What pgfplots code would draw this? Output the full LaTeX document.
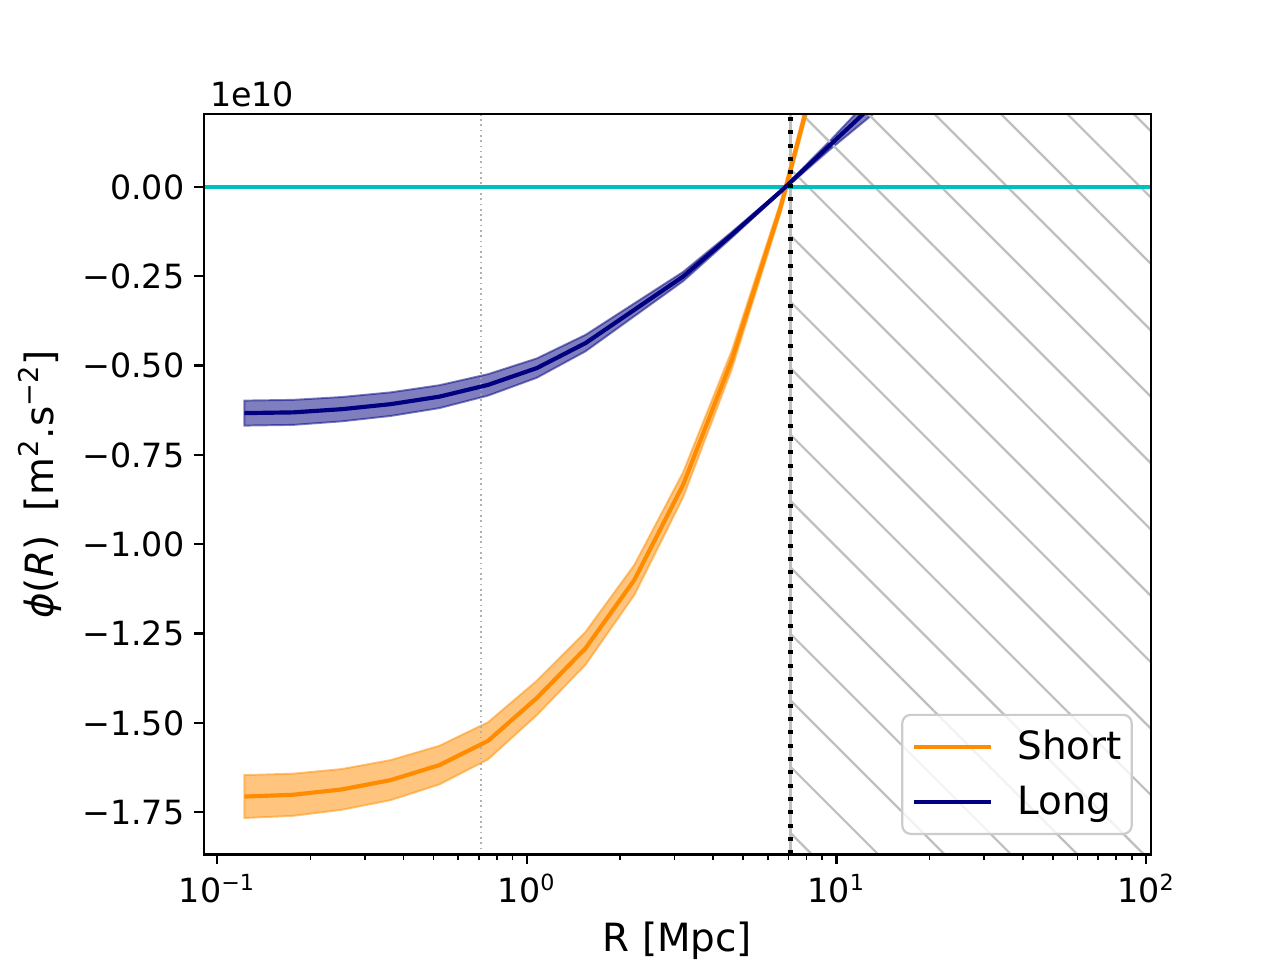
\documentclass[border=0pt]{standalone}
\usepackage{fontspec}
\setmainfont{DejaVu Sans}[ItalicFont={DejaVu Sans Oblique},BoldFont={DejaVu Sans Bold}]
\usepackage{pgfplots}
\pgfplotsset{compat=1.18}
\usepackage{pgfplotstable}
\usepgfplotslibrary{fillbetween}
\usetikzlibrary{patterns.meta}

\definecolor{dorange}{RGB}{255,140,0}
\definecolor{navyc}{RGB}{0,0,128}
\definecolor{cyanc}{RGB}{0,191,191}
\definecolor{hatchgray}{RGB}{191,191,191}
\definecolor{dotgray}{RGB}{176,176,176}
\definecolor{legedge}{RGB}{204,204,204}

% values in units of 1e10 m^2 s^-2
\pgfplotstableread{
R       m       lo      hi
0.1225  -1.706  -1.766  -1.646
0.1759  -1.701  -1.760  -1.642
0.2528  -1.686  -1.743  -1.629
0.3633  -1.660  -1.716  -1.604
0.5220  -1.618  -1.672  -1.564
0.7499  -1.550  -1.602  -1.498
1.0775  -1.430  -1.478  -1.382
1.548   -1.291  -1.337  -1.245
2.224   -1.100  -1.142  -1.058
3.196   -0.834  -0.869  -0.799
4.592   -0.484  -0.510  -0.458
6.598   -0.058  -0.073  -0.043
9.480    0.460   0.440   0.480
}\shortdata

\pgfplotstableread{
R       m       lo      hi
0.1225  -0.633  -0.668  -0.598
0.1759  -0.631  -0.666  -0.596
0.2528  -0.622  -0.656  -0.588
0.3633  -0.608  -0.641  -0.575
0.5220  -0.587  -0.619  -0.555
0.7499  -0.554  -0.584  -0.524
1.0775  -0.507  -0.534  -0.480
1.548   -0.437  -0.460  -0.414
2.224   -0.344  -0.362  -0.326
3.196   -0.251  -0.264  -0.238
4.592   -0.134  -0.142  -0.126
6.598   -0.013  -0.016  -0.010
9.480    0.115   0.103   0.127
13.62    0.243   0.215   0.271
}\longdata

\begin{document}
\begin{tikzpicture}
\begin{axis}[
  name=ax,
  at={(0pt,0pt)}, anchor=south west,
  scale only axis,
  width=341pt, height=266.5pt,
  xmode=log,
  xmin=0.0906, xmax=103.8,
  ymin=-1.868, ymax=0.2035,
  axis on top,
  tick align=outside,
  xtick pos=bottom, ytick pos=left,
  axis line style={line width=0.8pt, black},
  major tick length=3.5pt, minor tick length=2pt,
  major tick style={line width=0.8pt, black},
  minor tick style={line width=0.6pt, black},
  xtick={0.1,1,10,100},
  xticklabels={10\textsuperscript{−1},10\textsuperscript{0},10\textsuperscript{1},10\textsuperscript{2}},
  minor xtick={0.2,0.3,0.4,0.5,0.6,0.7,0.8,0.9,2,3,4,5,6,7,8,9,20,30,40,50,60,70,80,90},
  ytick={-1.75,-1.5,-1.25,-1,-0.75,-0.5,-0.25,0},
  yticklabels={−1.75,−1.50,−1.25,−1.00,−0.75,−0.50,−0.25,0.00},
  ticklabel style={font=\fontsize{12}{14}\selectfont},
  xlabel={R [Mpc]},
  ylabel={{\itshape ϕ}(\textit{R})\ \ [m\textsuperscript{2}.s\textsuperscript{−2}]},
  label style={font=\fontsize{14}{16.8}\selectfont},
  xlabel style={at={(axis description cs:0.5,0)}, anchor=base, yshift=-35pt},
  ylabel style={at={(axis description cs:-0.173,0.5)}, anchor=center},
  legend image code/.code={\draw[#1] (0pt,0pt) -- (27.7pt,0pt);},
  legend style={
    at={(axis description cs:1,0)}, anchor=south east,
    xshift=-6.6pt, yshift=7pt,
    draw=legedge, line width=0.8pt, rounded corners=3pt,
    fill=white, fill opacity=0.8, draw opacity=1, text opacity=1,
    font=\fontsize{14}{16.8}\selectfont,
    inner xsep=3.6pt, inner ysep=5.5pt,
    nodes={inner sep=0pt},
    row sep=8pt, column sep=8.6pt,
  },
  legend cell align=left,
]
% excluded region (hatched)
\addplot[draw=hatchgray, line width=0.8pt,
  pattern={Lines[angle=-45,distance=16.9pt,line width=0.8pt,xshift=-4.3pt]},
  pattern color=hatchgray, forget plot]
  coordinates {(7.11,-1.868) (7.11,0.2035) (103.8,0.2035) (103.8,-1.868)} -- cycle;
% thin grey dotted line
\addplot[dotgray, line width=0.6pt, dash pattern=on 0.6pt off 1.3pt, forget plot]
  coordinates {(0.711,-1.868) (0.711,0.2035)};
% zero line
\addplot[cyanc, line width=1.5pt, forget plot] coordinates {(0.0906,0) (103.8,0)};
% Short band and line
\addplot[draw=none, name path=shi, forget plot] table[x=R,y=hi]{\shortdata};
\addplot[draw=none, name path=slo, forget plot] table[x=R,y=lo]{\shortdata};
\addplot[fill=dorange, fill opacity=0.5, draw=dorange, draw opacity=0.5, line width=0.7pt, forget plot]
  fill between[of=shi and slo];
\addplot[dorange, line width=1.5pt] table[x=R,y=m]{\shortdata};
\addlegendentry{Short}
% Long band and line
\addplot[draw=none, name path=lhi, forget plot] table[x=R,y=hi]{\longdata};
\addplot[draw=none, name path=llo, forget plot] table[x=R,y=lo]{\longdata};
\addplot[fill=navyc, fill opacity=0.5, draw=navyc, draw opacity=0.5, line width=0.7pt, forget plot]
  fill between[of=lhi and llo];
\addplot[navyc, line width=1.5pt] table[x=R,y=m]{\longdata};
\addlegendentry{Long}
% black dotted line
\addplot[black, line width=1.5pt, dash pattern=on 1.5pt off 3.3pt, forget plot]
  coordinates {(7.11,-1.868) (7.11,0.2035)};
\end{axis}
\node[anchor=base west, font=\fontsize{12}{14}\selectfont, xshift=-1.3pt, yshift=2.9pt] at (ax.north west) {1e10};
\pgfresetboundingbox
\path[use as bounding box] (-73.4pt,-38pt) rectangle (387.4pt,307.6pt);
\end{tikzpicture}
\end{document}
